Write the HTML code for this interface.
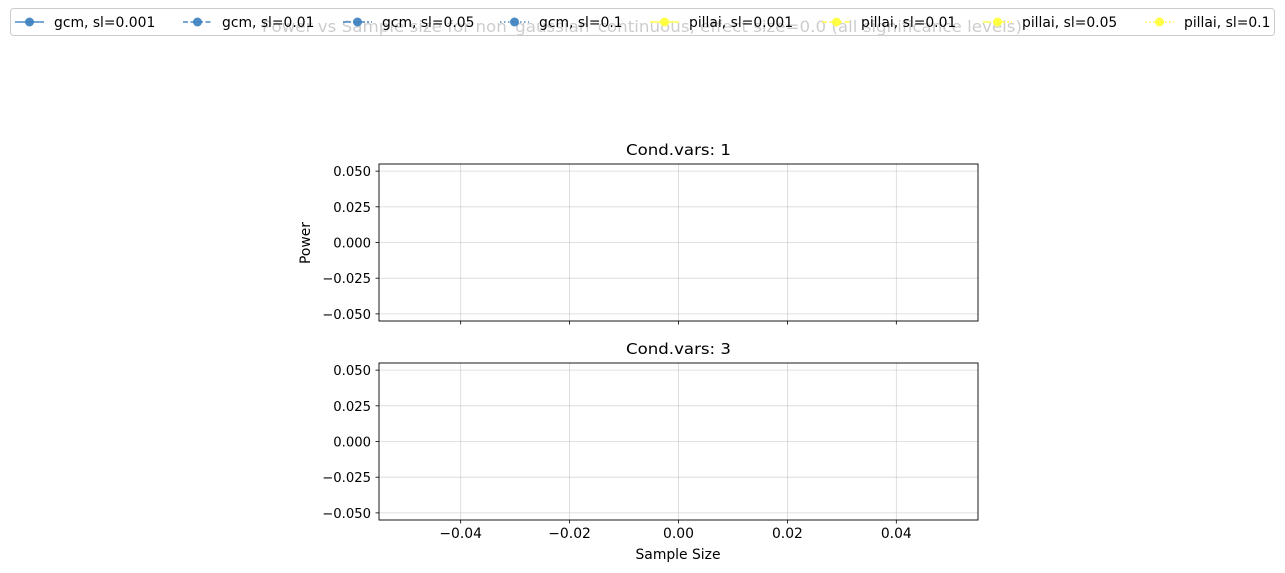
<!DOCTYPE html>
<html><head><meta charset="utf-8"><style>
body{margin:0;background:#fff;}
svg{display:block;font-family:"DejaVu Sans","Liberation Sans",sans-serif;}
</style></head><body>
<svg id="chart" width="1285" height="573" viewBox="0 0 1285 573">
<text x="642" y="32" text-anchor="middle" font-size="16" textLength="760" lengthAdjust="spacingAndGlyphs" fill="#000">Power vs Sample size for non_gaussian_continuous, effect size=0.0 (all significance levels)</text>
<g id="panels"></g>
<text x="678" y="559" text-anchor="middle" font-size="13.9">Sample Size</text>
<text transform="translate(310,243) rotate(-90)" text-anchor="middle" font-size="13.9">Power</text>
<g id="legend"></g>
</svg>
<script>
const xTicks = [-0.04, -0.02, 0.0, 0.02, 0.04];
const xTickLabels = ["−0.04", "−0.02", "0.00", "0.02", "0.04"];
const yTicks = [0.05, 0.025, 0.0, -0.025, -0.05];
const yTickLabels = ["0.050", "0.025", "0.000", "−0.025", "−0.050"];
const panelTitles = ["Cond.vars: 1", "Cond.vars: 3"];
const sampleSizes = [];
const gcmPower = [[], []];
const pillaiPower = [[], []];
const seriesNames = ["gcm, sl=0.001","gcm, sl=0.01","gcm, sl=0.05","gcm, sl=0.1","pillai, sl=0.001","pillai, sl=0.01","pillai, sl=0.05","pillai, sl=0.1"];

const NS = "http://www.w3.org/2000/svg";
const L = 379, R = 978, W = R - L;
const tops = [164, 363], H = 157;
const xMin = -0.055, xMax = 0.055, yMin = -0.055, yMax = 0.055;
function xs(v){ return L + (v - xMin) / (xMax - xMin) * W; }
function ysF(top){ return v => top + (yMax - v) / (yMax - yMin) * H; }
function mk(tag, attrs, parent){ const e = document.createElementNS(NS, tag); for (const k in attrs) e.setAttribute(k, attrs[k]); parent.appendChild(e); return e; }

const panels = document.getElementById('panels');
tops.forEach((top, pi) => {
  const ys = ysF(top);
  const g = mk('g', {}, panels);
  
  
  xTicks.forEach((t, i) => {
    const x = xs(t);
    const gl = mk('line', {x1:x, x2:x, y1:top, y2:top+H, stroke:'#b0b0b0', 'stroke-opacity':0.5, 'stroke-width':0.8}, g);
    
    
    mk('line', {x1:x, x2:x, y1:top+H, y2:top+H+3.5, stroke:'#000', 'stroke-width':0.8}, g);
    if (pi === 1) {
      const tl = mk('text', {x:x, y:top+H+18, 'text-anchor':'middle', 'font-size':13.9}, g);
      tl.textContent = xTickLabels[i];
      
      
    }
  });
  yTicks.forEach((t, i) => {
    const y = ys(t);
    const gl = mk('line', {x1:L, x2:R, y1:y, y2:y, stroke:'#b0b0b0', 'stroke-opacity':0.5, 'stroke-width':0.8}, g);
    
    
    mk('line', {x1:L-3.5, x2:L, y1:y, y2:y, stroke:'#000', 'stroke-width':0.8}, g);
    const tl = mk('text', {x:L-8, y:y+5, 'text-anchor':'end', 'font-size':13.2}, g);
    tl.textContent = yTickLabels[i];
    
    
  });
  const gcmLine = mk('polyline', {points: gcmPower[pi].map((v,i)=>xs(sampleSizes[i])+','+ys(v)).join(' '), fill:'none', stroke:'#3a7ebf', 'stroke-opacity':0.9}, g);
  
  
  const pilLine = mk('polyline', {points: pillaiPower[pi].map((v,i)=>xs(sampleSizes[i])+','+ys(v)).join(' '), fill:'none', stroke:'#ffff33', 'stroke-opacity':0.9}, g);
  
  
  const frame = mk('rect', {x:L, y:top, width:W, height:H, fill:'none', stroke:'#000', 'stroke-width':0.9}, g);
  
  
  const pt = mk('text', {x:(L+R)/2, y:top-9, 'text-anchor':'middle', 'font-size':15.5, textLength:105, lengthAdjust:'spacingAndGlyphs'}, g);
  pt.textContent = panelTitles[pi];
  
  
});

// legend
const lg = document.getElementById('legend');
mk('rect', {x:10.5, y:8.5, width:1264, height:27, rx:3, fill:'#fff', 'fill-opacity':0.8, stroke:'#ccc'}, lg);
const lineStarts = [15, 183, 343, 500, 650, 822, 983, 1145];
const dashes = ['', '5,2.5', '8,2,2,2', '1.5,2.5', '', '5,2.5', '8,2,2,2', '1.5,2.5'];
seriesNames.forEach((n, i) => {
  const x0 = lineStarts[i];
  const col = i < 4 ? '#3a7ebf' : '#ffff33';
  const e = mk('g', {}, lg);
  
  
  const ln = mk('line', {x1:x0, x2:x0+29, y1:22, y2:22, stroke:col, 'stroke-opacity':0.9, 'stroke-width':1.5}, e);
  if (dashes[i]) ln.setAttribute('stroke-dasharray', dashes[i]);
  mk('circle', {cx:x0+14.5, cy:22, r:4.5, fill:col, 'fill-opacity':0.9}, e);
  const t = mk('text', {x:x0+39, y:27, 'font-size':13.9}, e);
  t.textContent = n;
});
</script>
</body></html>
